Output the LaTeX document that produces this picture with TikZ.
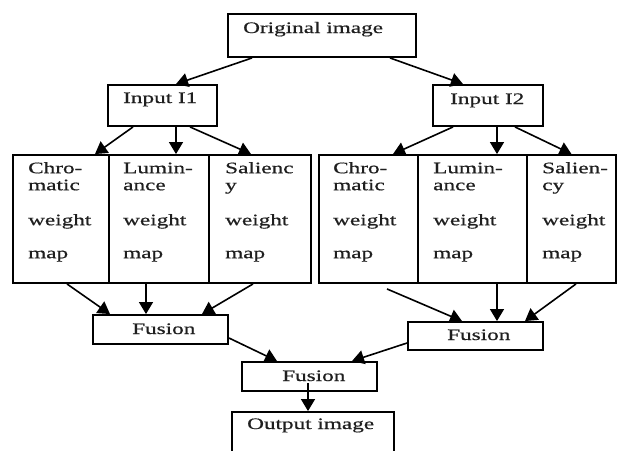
\documentclass[tikz,border=0pt]{standalone}
\usepackage{fontspec}
\setmainfont{Liberation Serif}[FakeStretch=1.45,FakeBold=0.6]
\usetikzlibrary{arrows.meta}
\begin{document}
\begin{tikzpicture}[x=1pt,y=-1pt,
  box/.style={draw, line width=1.9pt, rectangle, inner sep=0pt},
  lbl/.style={anchor=base west, inner sep=0pt, text=black!88, font=\fontsize{16}{17}\selectfont},
  wlbl/.style={anchor=north west, inner sep=0pt, align=left, text=black!88, font=\fontsize{16}{17}\selectfont},
  arr/.style={line width=1.6pt, -{Triangle[length=12pt,width=14pt]}}]
\path[use as bounding box, clip] (0,0) rectangle (618,450);
% top boxes
\node[box, minimum width=188pt, minimum height=43pt] (orig) at (322,35.5) {};
\node[lbl] (origt) at (243,33) {Original image};
\node[box, minimum width=109pt, minimum height=41pt] (in1) at (162.5,105.5) {};
\node[lbl] (in1t) at (123,103) {Input I1};
\node[box, minimum width=110pt, minimum height=41pt] (in2) at (488,105.5) {};
\node[lbl] (in2t) at (450,104) {Input I2};
% weight map boxes
\node[box, minimum width=96pt, minimum height=128pt] (c1) at (61,219) {};
\node[box, minimum width=100pt, minimum height=128pt] (c2) at (159,219) {};
\node[box, minimum width=102pt, minimum height=128pt] (c3) at (260,219) {};
\node[box, minimum width=99pt, minimum height=128pt] (c4) at (368.5,219) {};
\node[box, minimum width=109pt, minimum height=128pt] (c5) at (472.5,219) {};
\node[box, minimum width=89pt, minimum height=128pt] (c6) at (571.5,219) {};
\node[wlbl] (c1t) at (28,161.1) {\strut Chro-\\matic\\[18pt]weight\\[16pt]map};
\node[wlbl] (c2t) at (123,161.1) {\strut Lumin-\\ance\\[18pt]weight\\[16pt]map};
\node[wlbl] (c3t) at (225,161.1) {\strut Salienc\\y\\[18pt]weight\\[16pt]map};
\node[wlbl] (c4t) at (333,161.1) {\strut Chro-\\matic\\[18pt]weight\\[16pt]map};
\node[wlbl] (c5t) at (433,161.1) {\strut Lumin-\\ance\\[18pt]weight\\[16pt]map};
\node[wlbl] (c6t) at (542,161.1) {\strut Salien-\\cy\\[18pt]weight\\[16pt]map};
% fusion boxes
\node[box, minimum width=135pt, minimum height=29pt] (f1) at (160.5,329.5) {};
\node[lbl] (f1t) at (132,334) {Fusion};
\node[box, minimum width=135pt, minimum height=28pt] (f2) at (475.5,336) {};
\node[lbl] (f2t) at (447,340) {Fusion};
\node[box, minimum width=135pt, minimum height=29pt] (f3) at (309.5,376.5) {};
\node[lbl] (f3t) at (282,381) {Fusion};
\node[box, minimum width=162pt, minimum height=60pt] (out) at (313,442) {};
\node[lbl] (outt) at (247,429) {Output image};
% arrows
\draw[arr] ([xshift=-70pt]orig.south) -- ([xshift=13.5pt]in1.north);
\draw[arr] ([xshift=68pt]orig.south) -- ([xshift=-25pt]in2.north);
\draw[arr] ([xshift=-29.5pt]in1.south) -- ([xshift=34pt]c1.north);
\draw[arr] ([xshift=13.5pt]in1.south) -- ([xshift=17pt]c2.north);
\draw[arr] ([xshift=27.5pt]in1.south) -- ([xshift=-9pt]c3.north);
\draw[arr] ([xshift=-35pt]in2.south) -- ([xshift=24.5pt]c4.north);
\draw[arr] ([xshift=9pt]in2.south) -- ([xshift=24.5pt]c5.north);
\draw[arr] ([xshift=27pt]in2.south) -- (c6.north);
\draw[arr] ([xshift=6pt]c1.south) -- ([xshift=-50.5pt]f1.north);
\draw[arr] ([xshift=-13pt]c2.south) -- ([xshift=-14.5pt]f1.north);
\draw[arr] ([xshift=-7pt]c3.south) -- ([xshift=41.5pt]f1.north);
\draw[arr] ([xshift=18.5pt,yshift=-5pt]c4.south) -- ([xshift=-13.5pt]f2.north);
\draw[arr] ([xshift=24.5pt]c5.south) -- ([xshift=21.5pt]f2.north);
\draw[arr] ([xshift=4.5pt]c6.south) -- ([xshift=49.5pt]f2.north);
\draw[arr] ([yshift=-8.5pt]f1.east) -- ([xshift=-32.5pt]f3.north);
\draw[arr] ([yshift=-7pt]f2.west) -- ([xshift=42.5pt]f3.north);
\draw[arr] ([xshift=-1.5pt,yshift=-6.5pt]f3.center) -- ([xshift=-5pt]out.north);
\end{tikzpicture}
\end{document}
